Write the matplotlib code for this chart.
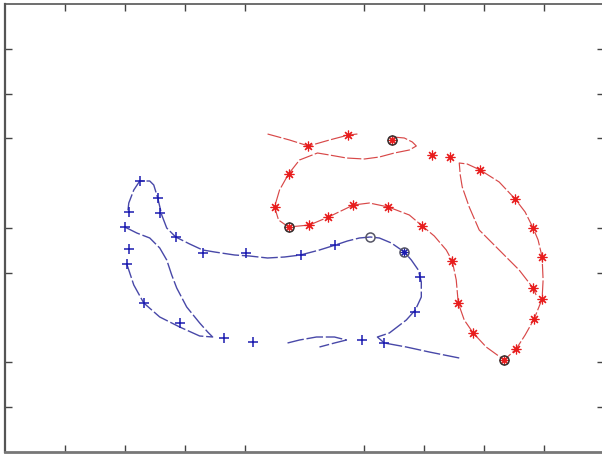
import matplotlib
matplotlib.use("Agg")
import matplotlib.pyplot as plt

# ---- data (axis units; origin at lower-left corner of the axes) ----
blue_path1_x = [455, 425, 402, 380, 373, 385, 402, 411, 417, 417, 414, 407, 400, 387, 375, 366, 355, 343,
                331, 315, 296, 280, 263, 245, 230, 210, 198, 185, 171, 162, 157, 153, 149, 145, 135, 129, 124, 123]
blue_path1_y = [94, 100, 105, 109, 115, 119, 132, 142, 155, 170, 182, 192, 200, 209, 214, 215, 214, 211,
                207, 202, 197, 195, 194, 196, 197, 200, 202, 208, 215, 224, 237, 254, 267, 271, 271, 262, 249, 240]
blue_path2_x = [120, 132, 145, 155, 162, 167, 172, 182, 195, 203, 208, 195, 175, 155, 139, 129, 122]
blue_path2_y = [225, 219, 214, 204, 192, 177, 164, 145, 129, 120, 115, 116, 125, 135, 149, 167, 188]
blue_path3_x = [283, 295, 312, 330, 342, 330, 315]
blue_path3_y = [109, 112, 115, 115, 112, 109, 105]
blue_plus_x = [135, 153, 155, 124, 120, 124, 122, 171, 198, 241, 296, 331, 416, 411, 139, 175, 219, 248, 358, 380]
blue_plus_y = [271, 254, 239, 240, 225, 203, 188, 215, 199, 199, 197, 207, 175, 140, 149, 129, 114, 110, 112, 109]
blue_star_x = [400]
blue_star_y = [200]
blue_circle_x = [366, 400]
blue_circle_y = [215, 200]

red_path1_x = [263, 285, 304, 325, 344, 353]
red_path1_y = [318, 312, 306, 312, 317, 318]
red_path2_x = [389, 400, 408, 412, 405, 390, 375, 360, 342, 325, 313, 295, 284, 275, 270, 274, 284, 305,
               324, 349, 365, 384, 405, 418, 430, 442, 448, 452, 454, 460, 469, 482, 500, 512, 521, 530,
               538, 539, 538, 534, 529, 521, 511, 495, 476, 463, 455, 456, 458, 465, 475, 495, 515, 529, 532]
red_path2_y = [315, 314, 310, 306, 302, 299, 295, 293, 294, 297, 299, 292, 278, 262, 245, 232, 225, 227,
               235, 247, 249, 245, 237, 226, 216, 202, 191, 172, 149, 132, 119, 105, 92, 103, 117, 133,
               153, 172, 195, 212, 224, 240, 253, 270, 282, 288, 289, 277, 265, 245, 222, 202, 182, 164, 157]
red_star_x = [304, 344, 284, 270, 324, 349, 305, 384, 428, 446, 418, 448, 454, 469, 512, 530, 538, 538, 529,
              511, 476, 529, 388, 284, 500]
red_star_y = [306, 317, 278, 245, 235, 247, 227, 245, 297, 295, 226, 191, 149, 119, 103, 133, 153, 195, 224,
              253, 282, 164, 312, 225, 92]
red_circle_x = [388, 284, 500]
red_circle_y = [312, 225, 92]

x_ticks = [60, 120, 180, 240, 360, 420, 480, 540]
y_ticks = [44.8, 89.6, 179.2, 224.0, 313.6, 358.4, 403.2]

# ---- style ----
BLUE_LINE = "#4848a8"
BLUE_MARK = "#1c1cb0"
RED_LINE = "#d84848"
RED_MARK = "#e81c1c"
DASH = (0, (12, 2.0))
ASTERISK = (8, 2, 0)

fig = plt.figure(figsize=(6.02, 4.55), dpi=100)
ax = fig.add_axes([5 / 602, 3 / 455, 599 / 602, 448 / 455])

for xs, ys in [(blue_path1_x, blue_path1_y), (blue_path2_x, blue_path2_y), (blue_path3_x, blue_path3_y)]:
    ax.plot(xs, ys, color=BLUE_LINE, lw=1.0, ls=DASH)
for xs, ys in [(red_path1_x, red_path1_y), (red_path2_x, red_path2_y)]:
    ax.plot(xs, ys, color=RED_LINE, lw=0.85, ls=DASH)

ax.plot(blue_plus_x, blue_plus_y, ls="none", marker="+", ms=7, mew=1.1, color=BLUE_MARK)
ax.plot(blue_star_x, blue_star_y, ls="none", marker=ASTERISK, ms=6.5, mew=0.8, color=BLUE_MARK)
ax.plot(red_star_x, red_star_y, ls="none", marker=ASTERISK, ms=7, mew=0.85, color=RED_MARK)
ax.plot(blue_circle_x, blue_circle_y, ls="none", marker="o", ms=6.5, mfc="none", mec="#555566", mew=1.1)
ax.plot(red_circle_x, red_circle_y, ls="none", marker="o", ms=6.5, mfc="none", mec="#333333", mew=1.1)

ax.set_xlim(0, 600)
ax.set_ylim(0, 448)
ax.set_xticks(x_ticks)
ax.set_yticks(y_ticks)
ax.set_xticklabels([])
ax.set_yticklabels([])
ax.tick_params(direction="in", length=5, width=1, color="#444444",
               top=True, right=True, bottom=True, left=True)
for side, sp in ax.spines.items():
    sp.set_color("#555555")
    sp.set_linewidth(1.2)
ax.spines["bottom"].set_linewidth(2.0)
ax.spines["bottom"].set_color("#777777")
ax.spines["left"].set_linewidth(1.6)

fig.savefig("out.png", dpi=100)
